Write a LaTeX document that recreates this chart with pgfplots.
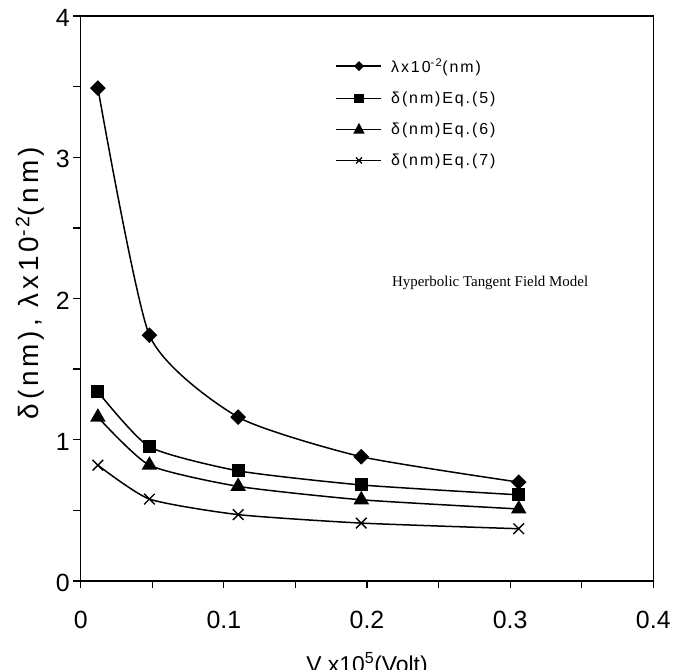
\documentclass[border=0pt]{standalone}
\usepackage{fontspec}
\setmainfont{Liberation Sans}
\newfontfamily\timesfont{Liberation Serif}
\usepackage{pgfplots}
\pgfplotsset{compat=1.18}
\begin{document}
\begin{tikzpicture}
\begin{axis}[
  at={(0,0)}, anchor=south west,
  scale only axis,
  width=572.6bp, height=565bp,
  xmin=0, xmax=0.4, ymin=0, ymax=4,
  xtick={0,0.05,0.1,0.15,0.2,0.25,0.3,0.35,0.4},
  xticklabels={0,,0.1,,0.2,,0.3,,0.4},
  ytick={0,0.5,1,1.5,2,2.5,3,3.5,4},
  yticklabels={0,,1,,2,,3,,4},
  minor tick num=0,
  tick pos=left, tick align=outside,
  major tick length=7.4bp, tickwidth=7.4bp,
  every tick/.append style={draw=black, line width=1.3pt},
  axis line style={line width=1.6pt},
  tick label style={font=\fontsize{25}{29}\selectfont},
  xticklabel style={yshift=-19bp},
  yticklabel style={xshift=0bp, yshift=-2bp},
  xlabel={V x10\textsuperscript{5}(Volt)},
  xlabel style={font=\fontsize{23}{27}\selectfont, at={(axis description cs:0.5,0)}, anchor=base, yshift=-91bp},
  ylabel={δ(nm), λx10\textsuperscript{-2}(nm)},
  ylabel style={font=\fontsize{28}{32}\selectfont\addfontfeatures{LetterSpace=14}, at={(axis description cs:-0.0885,0.527)}, anchor=center},
  legend style={draw=none, fill=none, at={(axis cs:0.176,3.73)}, anchor=north west,
    font=\fontsize{16}{19}\selectfont\addfontfeatures{LetterSpace=12},
    nodes={inner sep=2bp}, row sep=14bp, legend cell align=left,
    /tikz/every even column/.append style={column sep=0bp}},
]
\addplot[black, line width=1.5pt, smooth, tension=0.35, mark=square*, mark size=4.8bp, mark options={rotate=45, solid},
  legend image code/.code={\draw[black, line width=1.3pt] (0bp,0bp) -- (45bp,0bp); \fill[black] (22.5bp,0bp) +(0,4bp) -- +(4bp,0) -- +(0,-4bp) -- +(-4bp,0) -- cycle; \path (52bp,0bp);}]
  coordinates {(0.012,3.49) (0.048,1.74) (0.110,1.16) (0.196,0.88) (0.306,0.70)};
\addlegendentry{λx10\textsuperscript{-2}(nm)}
\addplot[black, line width=1.5pt, smooth, tension=0.35, mark=square*, mark size=5.8bp,
  legend image code/.code={\draw[black, line width=1.3pt] (0bp,0bp) -- (45bp,0bp); \fill[black] (22.5bp,0bp) +(-3.8bp,-3.8bp) rectangle +(3.8bp,3.8bp); \path (52bp,0bp);}]
  coordinates {(0.012,1.34) (0.048,0.95) (0.110,0.78) (0.196,0.68) (0.306,0.61)};
\addlegendentry{δ(nm)Eq.(5)}
\addplot[black, line width=1.5pt, smooth, tension=0.35, mark=triangle*, mark size=7.5bp,
  legend image code/.code={\draw[black, line width=1.3pt] (0bp,0bp) -- (45bp,0bp); \fill[black] (22.5bp,0bp) +(0,5bp) -- +(4.5bp,-3.5bp) -- +(-4.5bp,-3.5bp) -- cycle; \path (52bp,0bp);}]
  coordinates {(0.012,1.16) (0.048,0.82) (0.110,0.67) (0.196,0.575) (0.306,0.51)};
\addlegendentry{δ(nm)Eq.(6)}
\addplot[black, line width=1.5pt, smooth, tension=0.35, mark=x, mark size=7.5bp, mark options={line width=1.4pt},
  legend image code/.code={\draw[black, line width=1.3pt] (0bp,0bp) -- (45bp,0bp); \draw[black, line width=1.2pt] (22.5bp,0bp) +(-3bp,-3bp) -- +(3bp,3bp) +(-3bp,3bp) -- +(3bp,-3bp); \path (52bp,0bp);}]
  coordinates {(0.012,0.82) (0.048,0.58) (0.110,0.47) (0.196,0.41) (0.306,0.37)};
\addlegendentry{δ(nm)Eq.(7)}
\node[font=\timesfont\fontsize{15}{18}\selectfont] at (axis cs:0.286,2.11) {Hyperbolic Tangent Field Model};
\end{axis}
\pgfresetboundingbox
\useasboundingbox (-80.7bp,-89bp) rectangle (593.3bp,581bp);
\end{tikzpicture}
\end{document}
